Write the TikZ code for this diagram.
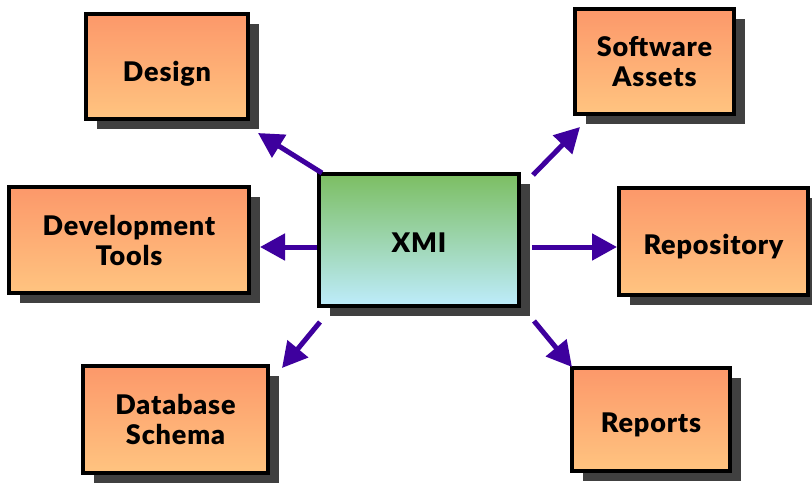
\documentclass[tikz,border=0pt]{standalone}
\usepackage{fontspec}
\newfontfamily\boxfont{Lato}[LetterSpace=3, BoldFont={Lato Black}]
\usetikzlibrary{calc,arrows.meta,shadows}
\definecolor{orTop}{RGB}{252,152,106}
\definecolor{orBot}{RGB}{255,196,128}
\definecolor{grTop}{RGB}{124,190,98}
\definecolor{blBot}{RGB}{190,236,252}
\definecolor{shade}{RGB}{64,64,64}
\definecolor{arr}{RGB}{62,0,158}
\tikzset{
  box/.style={draw=black, line width=4pt, top color=orTop, bottom color=orBot,
    align=center, font=\boxfont\bfseries\fontsize{27}{30}\selectfont, inner sep=0pt,
    text depth=0pt,
    drop shadow={shadow xshift=11pt, shadow yshift=-10pt, fill=shade, opacity=1}},
  oneline/.style={text height=#1},
  oneline/.default=25pt,
  hub/.style={box, top color=grTop, bottom color=blBot},
  link/.style={draw=arr, line width=5pt, -{Triangle[length=25pt,width=26pt]}}
}
\begin{document}
\begin{tikzpicture}[x=1pt,y=-1pt]
\useasboundingbox[fill=white] (0,0) rectangle (812,483);
\node[hub, oneline, minimum width=200pt, minimum height=132pt] (xmi) at (419,240) {XMI};
\node[box, oneline=29pt, minimum width=162pt, minimum height=105pt] (design) at (167,66.5) {Design};
\node[box, minimum width=240pt, minimum height=106pt] (dev) at (129,240) {Development\\Tools};
\node[box, minimum width=185pt, minimum height=107pt] (db) at (175.5,419.5) {Database\\Schema};
\node[box, minimum width=159pt, minimum height=105pt] (soft) at (654.5,61.5) {Software\\Assets};
\node[box, oneline, minimum width=189pt, minimum height=107pt] (repo) at (713.5,241.5) {Repository};
\node[box, oneline, minimum width=158pt, minimum height=103pt] (rep) at (651,419.5) {Reports};
\draw[link] ($(xmi.north west)+(5,1)$) -- ($(design.south east)+(8,12)$);
\draw[link] ($(xmi.west)+(0,7)$) -- ($(dev.east)+(9,7)$);
\draw[link] ($(xmi.south west)+(3,14)$) -- ($(db.north east)+(12,4)$);
\draw[link] ($(xmi.north east)+(12,3)$) -- ($(soft.south west)+(7,11)$);
\draw[link] ($(xmi.east)+(11,7)$) -- ($(repo.west)+(0,5.5)$);
\draw[link] ($(xmi.south east)+(13,13)$) -- ($(rep.north west)+(2,1)$);
\end{tikzpicture}
\end{document}
